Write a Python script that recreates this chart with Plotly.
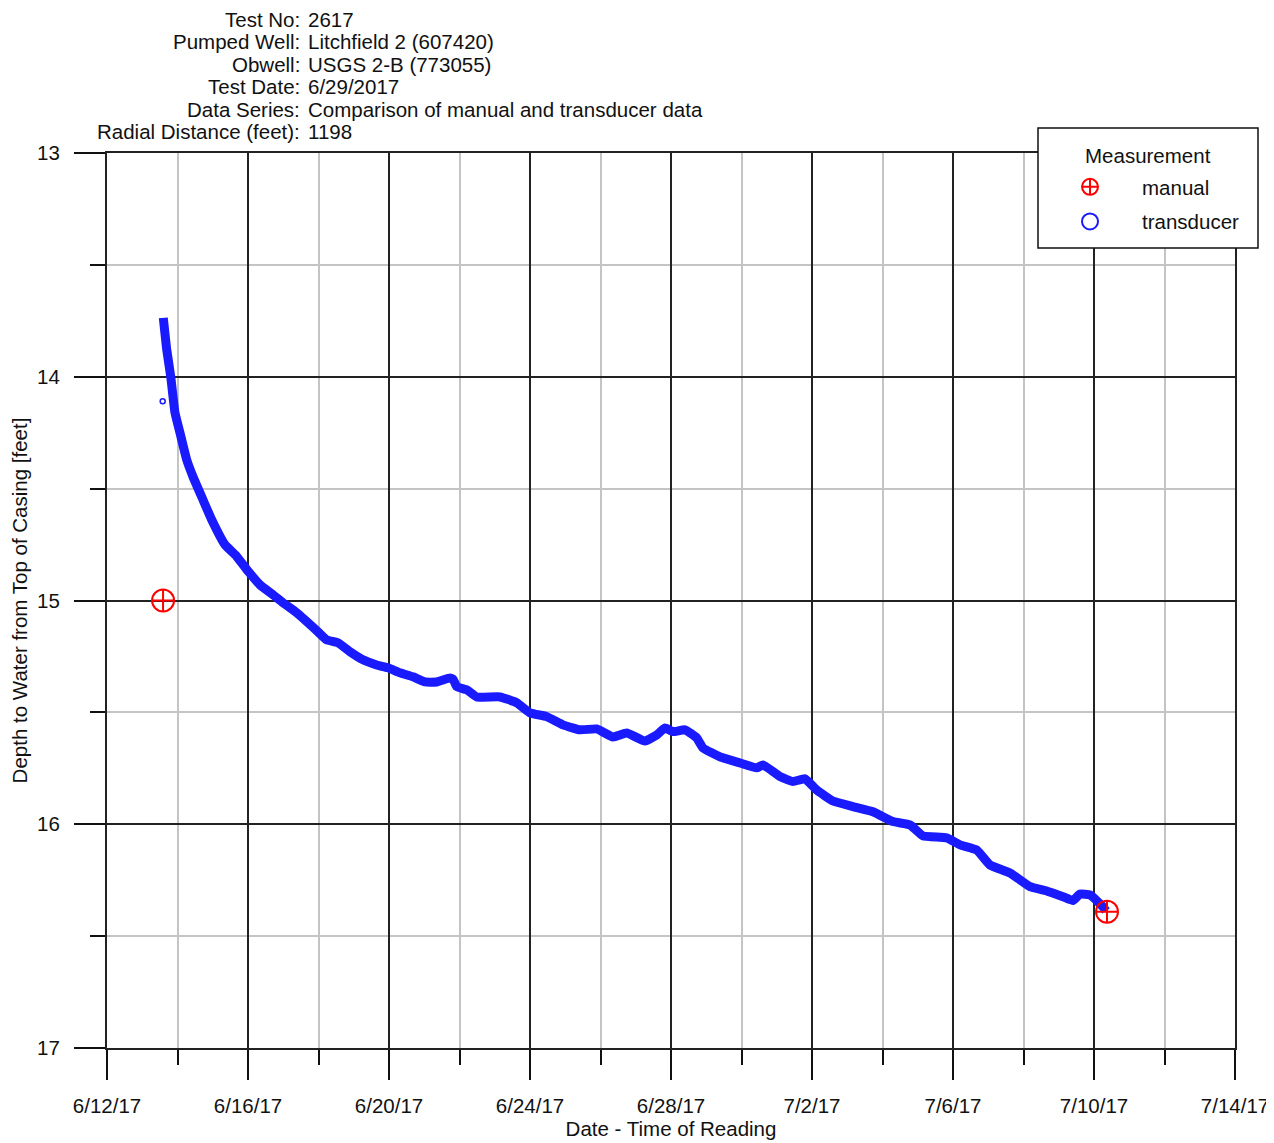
import plotly.graph_objects as go

# ---------------- data ----------------
transducer_time = [
    "2017-06-13 14:20", "2017-06-13 16:40", "2017-06-13 19:22", "2017-06-13 22:18",
    "2017-06-14 01:42", "2017-06-14 06:16", "2017-06-14 10:33", "2017-06-14 17:21",
    "2017-06-14 23:17", "2017-06-15 08:21", "2017-06-15 16:18", "2017-06-16 00:12",
    "2017-06-16 08:10", "2017-06-16 17:01", "2017-06-16 23:50", "2017-06-17 09:10",
    "2017-06-17 23:40", "2017-06-18 05:35", "2017-06-18 13:16", "2017-06-18 21:27",
    "2017-06-19 06:17", "2017-06-19 15:37", "2017-06-19 23:19", "2017-06-20 07:29",
    "2017-06-20 16:20", "2017-06-21 00:30", "2017-06-21 08:28", "2017-06-21 17:31",
    "2017-06-21 19:35", "2017-06-21 22:06", "2017-06-22 04:54", "2017-06-22 11:43",
    "2017-06-23 03:34", "2017-06-23 14:57", "2017-06-24 00:00", "2017-06-24 11:22",
    "2017-06-24 22:28", "2017-06-25 10:02", "2017-06-25 21:25", "2017-06-26 08:30",
    "2017-06-26 17:50", "2017-06-27 06:17", "2017-06-27 14:15", "2017-06-27 19:55",
    "2017-06-28 01:22", "2017-06-28 09:32", "2017-06-28 17:30", "2017-06-28 21:47",
    "2017-06-29 09:22", "2017-06-29 22:58", "2017-06-30 10:20", "2017-06-30 14:38",
    "2017-07-01 02:13", "2017-07-01 11:04", "2017-07-01 19:14", "2017-07-02 03:11",
    "2017-07-02 14:18", "2017-07-03 03:55", "2017-07-03 17:32", "2017-07-04 07:09",
    "2017-07-04 18:43", "2017-07-05 03:34", "2017-07-05 19:42", "2017-07-06 04:46",
    "2017-07-06 16:08", "2017-07-07 01:12", "2017-07-07 14:49", "2017-07-08 04:25",
    "2017-07-08 15:48", "2017-07-09 02:54", "2017-07-09 09:42", "2017-07-09 14:28",
    "2017-07-09 21:17", "2017-07-10 06:07", "2017-07-10 08:10",
]
transducer_depth = [
    13.737, 13.879, 13.998, 14.161,
    14.251, 14.371, 14.447, 14.550,
    14.639, 14.751, 14.803, 14.870,
    14.930, 14.974, 15.010, 15.055,
    15.140, 15.176, 15.189, 15.229,
    15.265, 15.288, 15.301, 15.323,
    15.341, 15.364, 15.364, 15.346,
    15.351, 15.385, 15.399, 15.431,
    15.431, 15.457, 15.502, 15.519,
    15.556, 15.578, 15.574, 15.610,
    15.592, 15.628, 15.601, 15.570,
    15.586, 15.578, 15.614, 15.659,
    15.699, 15.726, 15.748, 15.735,
    15.787, 15.809, 15.797, 15.847,
    15.896, 15.921, 15.944, 15.988,
    16.003, 16.052, 16.061, 16.092,
    16.115, 16.182, 16.218, 16.279,
    16.298, 16.324, 16.341, 16.312,
    16.316, 16.369, 16.388,
]
transducer_outlier_time = ["2017-06-13 13:55"]
transducer_outlier_depth = [14.110]

manual_time = ["2017-06-13 14:10", "2017-07-10 08:51"]
manual_depth = [15.00, 16.391]

header_labels = ["Test No:", "Pumped Well:", "Obwell:", "Test Date:",
                 "Data Series:", "Radial Distance (feet):"]
header_values = ["2617", "Litchfield 2 (607420)", "USGS 2-B (773055)", "6/29/2017",
                 "Comparison of manual and transducer data", "1198"]

x_range = ["2017-06-12", "2017-07-14"]
y_range = [17, 13]

# ---------------- layout geometry ----------------
OFF = 8                     # page body margin
W, H = 1274 - OFF, 1143 - OFF
L, T = 107 - OFF, 153 - OFF
R, B = 39, 95
PW, PH = W - L - R, H - T - B

def px_x(sx):               # screen px -> paper x
    return (sx - OFF - L) / PW

def px_y(sy):               # screen px -> paper y
    return (H - B - (sy - OFF)) / PH

FONT = "Liberation Sans, Arial, sans-serif"
BLUE = "#1a1aff"
RED = "#ff0000"
TXT = "#111111"
DAY = 86400000

fig = go.Figure()

fig.add_trace(go.Scatter(
    x=transducer_time, y=transducer_depth, mode="lines",
    line=dict(color=BLUE, width=9, shape="spline", smoothing=0.4),
    showlegend=False, name="transducer",
))
fig.add_trace(go.Scatter(
    x=transducer_outlier_time, y=transducer_outlier_depth, mode="markers",
    marker=dict(symbol="circle-open", size=5, color=BLUE, line=dict(width=1.5, color=BLUE)),
    showlegend=False, name="transducer",
))
fig.add_trace(go.Scatter(
    x=manual_time, y=manual_depth, mode="markers", name="manual",
    legendgroup="g1",
    marker=dict(symbol="circle-cross-open", size=22, color=RED,
                line=dict(width=2, color=RED)),
))
# legend entry for transducer
fig.add_trace(go.Scatter(
    x=[None], y=[None], mode="markers", name="transducer",
    legendgroup="g2",
    marker=dict(symbol="circle-open", size=22, color=BLUE,
                line=dict(width=2, color=BLUE)),
))

annotations = []
ycs = [19.5, 42, 64.5, 87, 109.5, 132]
for lab, val, yc in zip(header_labels, header_values, ycs):
    annotations.append(dict(
        text=lab, x=px_x(301), y=px_y(yc), xref="paper", yref="paper",
        xanchor="right", yanchor="middle", showarrow=False, borderpad=0,
        font=dict(family=FONT, size=20.5, color=TXT),
    ))
    annotations.append(dict(
        text=val, x=px_x(307), y=px_y(yc), xref="paper", yref="paper",
        xanchor="left", yanchor="middle", showarrow=False, borderpad=0,
        font=dict(family=FONT, size=20.5, color=TXT),
    ))
# legend title
annotations.append(dict(
    text="Measurement", x=px_x(1148), y=px_y(155), xref="paper", yref="paper",
    xanchor="center", yanchor="middle", showarrow=False,
    font=dict(family=FONT, size=20.5, color=TXT),
))

shapes = [dict(
    type="rect", xref="paper", yref="paper",
    x0=px_x(1038), x1=px_x(1258), y0=px_y(248), y1=px_y(128),
    fillcolor="white", line=dict(color=TXT, width=1.5), layer="above",
)]

fig.update_layout(
    width=W, height=H,
    margin=dict(l=L, r=R, t=T, b=B, autoexpand=False),
    paper_bgcolor="white", plot_bgcolor="white",
    font=dict(family=FONT, size=20.5, color=TXT),
    annotations=annotations,
    shapes=shapes,
    legend=dict(
        x=px_x(1038), y=px_y(167), xanchor="left", yanchor="top",
        bgcolor="rgba(0,0,0,0)", borderwidth=0,
        font=dict(family=FONT, size=20.5, color=TXT),
        itemwidth=94, tracegroupgap=5,
    ),
)

fig.update_xaxes(
    type="date", range=x_range,
    tick0="2017-06-12", dtick=4 * DAY, tickformat="%-m/%-d/%y",
    showgrid=True, gridcolor="#222", gridwidth=2,
    ticks="outside", ticklen=30, tickwidth=1.5, tickcolor=TXT,
    ticklabelstandoff=8,
    minor=dict(dtick=2 * DAY, tick0="2017-06-12", showgrid=True, gridcolor="#c4c4c4",
               gridwidth=2, ticks="outside", ticklen=15, tickwidth=1.5, tickcolor=TXT),
    showline=True, linecolor="#222", linewidth=2, mirror=True,
    zeroline=False,
    title=dict(text="Date - Time of Reading", standoff=2, font=dict(size=20.5)),
    tickfont=dict(size=20.5),
)
fig.update_yaxes(
    range=y_range, tick0=13, dtick=1,
    showgrid=True, gridcolor="#222", gridwidth=2,
    ticks="outside", ticklen=31, tickwidth=1.5, tickcolor=TXT,
    ticklabelstandoff=10,
    minor=dict(dtick=0.5, tick0=13, showgrid=True, gridcolor="#c4c4c4",
               gridwidth=2, ticks="outside", ticklen=15, tickwidth=1.5, tickcolor=TXT),
    showline=True, linecolor="#222", linewidth=2, mirror=True,
    zeroline=False,
    title=dict(text="Depth to Water from Top of Casing [feet]", standoff=6, font=dict(size=20.5)),
    tickfont=dict(size=20.5),
)

fig.write_html("out.html")
